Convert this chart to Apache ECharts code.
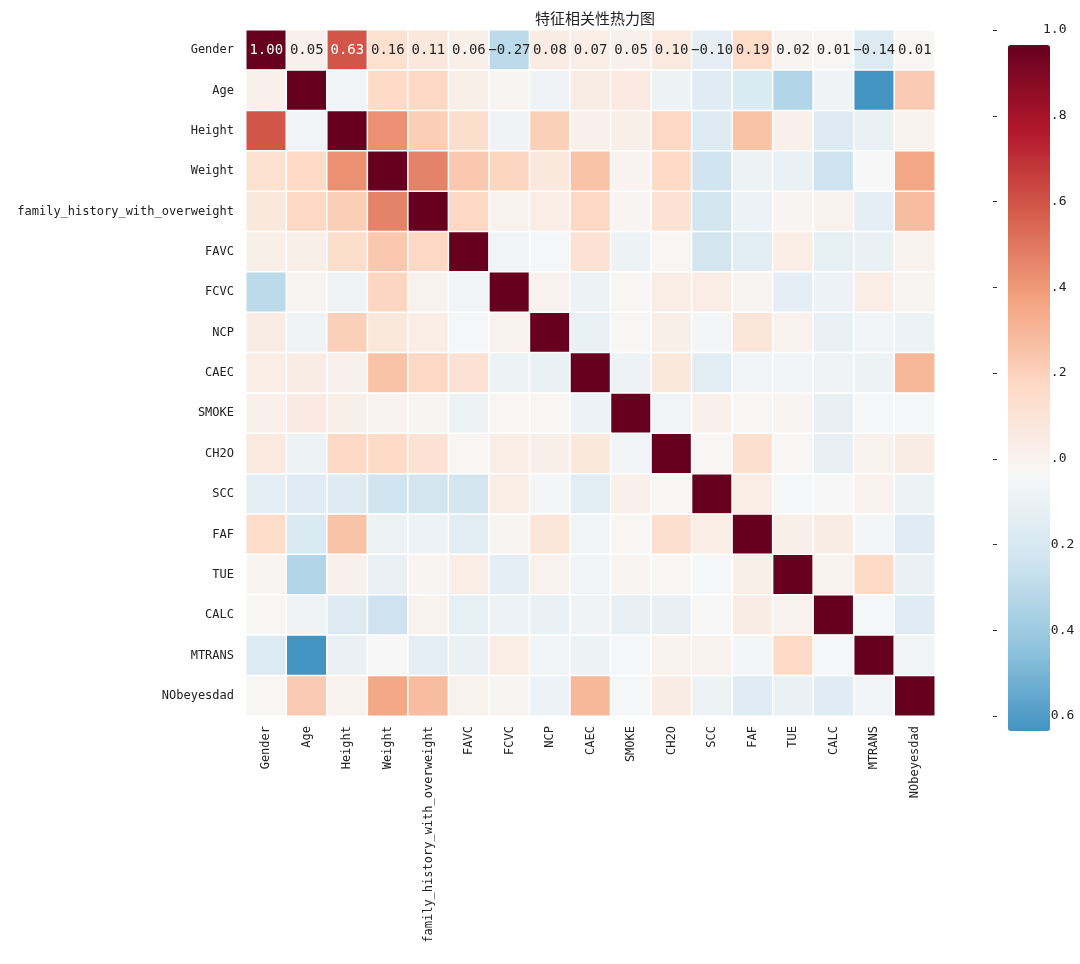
<!DOCTYPE html>
<html>
<head>
<meta charset="utf-8">
<script src="https://cdn.jsdelivr.net/npm/echarts@6/dist/echarts.min.js"></script>
<style>html,body{margin:0;padding:0;background:#fff}#main{width:1080px;height:964px}</style>
</head>
<body>
<div id="main"></div>
<script>
var features = ['Gender','Age','Height','Weight','family_history_with_overweight','FAVC','FCVC','NCP','CAEC','SMOKE','CH2O','SCC','FAF','TUE','CALC','MTRANS','NObeyesdad'];

// correlation matrix rows
var rowGender = [1.00,0.05,0.63,0.16,0.11,0.06,-0.27,0.08,0.07,0.05,0.10,-0.10,0.19,0.02,0.01,-0.14,0.01];
var rowAge    = [0.05,1.00,-0.03,0.20,0.21,0.06,0.02,-0.04,0.08,0.09,-0.05,-0.12,-0.15,-0.30,-0.04,-0.60,0.26];
var rowHeight = [0.63,-0.03,1.00,0.46,0.25,0.18,-0.04,0.24,0.05,0.06,0.21,-0.13,0.29,0.05,-0.13,-0.07,0.04];
var rowWeight = [0.16,0.20,0.46,1.00,0.50,0.27,0.22,0.11,0.29,0.03,0.20,-0.20,-0.05,-0.07,-0.21,0.00,0.39];
var rowFam    = [0.11,0.21,0.25,0.50,1.00,0.21,0.04,0.07,0.21,0.02,0.15,-0.19,-0.06,0.02,0.04,-0.10,0.31];
var rowFAVC   = [0.06,0.06,0.18,0.27,0.21,1.00,-0.03,-0.01,0.15,-0.05,0.01,-0.19,-0.11,0.07,-0.09,-0.07,0.04];
var rowFCVC   = [-0.27,0.02,-0.04,0.22,0.04,-0.03,1.00,0.04,-0.05,0.01,0.07,0.07,0.02,-0.10,-0.06,0.07,0.02];
var rowNCP    = [0.08,-0.04,0.24,0.11,0.07,-0.01,0.04,1.00,-0.07,0.01,0.06,-0.02,0.13,0.04,-0.07,-0.03,-0.06];
var rowCAEC   = [0.07,0.08,0.05,0.29,0.21,0.15,-0.05,-0.07,1.00,-0.06,0.11,-0.11,-0.03,-0.03,-0.04,-0.05,0.33];
var rowSMOKE  = [0.05,0.09,0.06,0.03,0.02,-0.05,0.01,0.01,-0.06,1.00,-0.03,0.05,0.01,0.02,-0.08,-0.01,-0.01];
var rowCH2O   = [0.10,-0.05,0.21,0.20,0.15,0.01,0.07,0.06,0.11,-0.03,1.00,0.01,0.17,0.01,-0.08,0.04,0.08];
var rowSCC    = [-0.10,-0.12,-0.13,-0.20,-0.19,-0.19,0.07,-0.02,-0.11,0.05,0.01,1.00,0.07,-0.01,0.00,0.04,-0.05];
var rowFAF    = [0.19,-0.15,0.29,-0.05,-0.06,-0.11,0.02,0.13,-0.03,0.01,0.17,0.07,1.00,0.06,0.08,-0.02,-0.12];
var rowTUE    = [0.02,-0.30,0.05,-0.07,0.02,0.07,-0.10,0.04,-0.03,0.02,0.01,-0.01,0.06,1.00,0.04,0.20,-0.07];
var rowCALC   = [0.01,-0.04,-0.13,-0.21,0.04,-0.09,-0.06,-0.07,-0.04,-0.08,-0.08,0.00,0.08,0.04,1.00,-0.01,-0.12];
var rowMTRANS = [-0.14,-0.60,-0.07,0.00,-0.10,-0.07,0.07,-0.03,-0.05,-0.01,0.04,0.04,-0.02,0.20,-0.01,1.00,-0.03];
var rowNObey  = [0.01,0.26,0.04,0.39,0.31,0.04,0.02,-0.06,0.33,-0.01,0.08,-0.05,-0.12,-0.07,-0.12,-0.03,1.00];

var matrix = [rowGender,rowAge,rowHeight,rowWeight,rowFam,rowFAVC,rowFCVC,rowNCP,rowCAEC,rowSMOKE,rowCH2O,rowSCC,rowFAF,rowTUE,rowCALC,rowMTRANS,rowNObey];
var barTicks = [-0.6,-0.4,-0.2,0.0,0.2,0.4,0.6,0.8,1.0];

var data = [];
for (var i = 0; i < matrix.length; i++) {
	for (var j = 0; j < matrix[i].length; j++) {
		data.push([j, i, matrix[i][j]]);
	}
}

var mono = 'DejaVu Sans Mono';
var chart = echarts.init(document.getElementById('main'));

var option = {
	backgroundColor: '#fff',
	title: {
		text: '特征相关性热力图', left: 590, top: 6, textAlign: 'center',
		textStyle: {fontFamily: 'Noto Sans CJK SC', fontSize: 15, fontWeight: 'normal', color: '#222'}
	},
	grid: [
		{left: 246, right: 145, top: 30, bottom: 248},
		{left: 993, width: 42, top: 30, bottom: 248}
	],
	xAxis: [
		{
			type: 'category', data: features, gridIndex: 0,
			axisLine: {show: false}, axisTick: {show: false}, splitLine: {show: false},
			axisLabel: {rotate: 90, interval: 0, fontFamily: mono, fontSize: 12, color: '#222', margin: 10}
		},
		{type: 'value', gridIndex: 1, show: false}
	],
	yAxis: [
		{
			type: 'category', data: features, gridIndex: 0, inverse: true,
			axisLine: {show: false}, axisTick: {show: false}, splitLine: {show: false},
			axisLabel: {interval: 0, fontFamily: mono, fontSize: 12, color: '#222', margin: 12}
		},
		{
			type: 'value', gridIndex: 1, position: 'right', min: -0.6, max: 1.0, interval: 0.2,
			axisLine: {show: false}, splitLine: {show: false},
			axisTick: {show: true, length: 4, lineStyle: {color: '#333'}},
			axisLabel: {fontFamily: mono, fontSize: 13, color: '#222', margin: 8,
				formatter: function (v) { return v.toFixed(1).replace('-', '\u2212'); }}
		}
	],
	visualMap: {
		type: 'continuous', min: -0.6, max: 1.0, calculable: false,
		left: 993, top: 30, itemWidth: 42, itemHeight: 686, text: null,
		showLabel: false, seriesIndex: 0,
		textStyle: {color: 'transparent'},
		inRange: {color: ['#4393c3','#92c5de','#d1e5f0','#f7f7f7','#fddbc7','#f4a582','#d6604d','#b2182b','#67001f']}
	},
	series: [
		{
			type: 'heatmap', data: data, xAxisIndex: 0, yAxisIndex: 0,
			itemStyle: {borderColor: '#fff', borderWidth: 1.5},
			label: {
				show: true, fontFamily: mono, fontSize: 14,
				formatter: function (p) {
					if (p.value[1] !== 0) return '';
					return p.value[2].toFixed(2).replace('-', '\u2212');
				},
				color: '#262626',
				rich: {}
			},
			emphasis: {disabled: true}
		}
	]
};

// white text on dark cells of the annotated row
option.series[0].data = data.map(function (d) {
	if (d[1] === 0 && d[2] > 0.5) return {value: d, label: {color: '#fff'}};
	return d;
});

chart.setOption(option);
</script>
</body>
</html>
